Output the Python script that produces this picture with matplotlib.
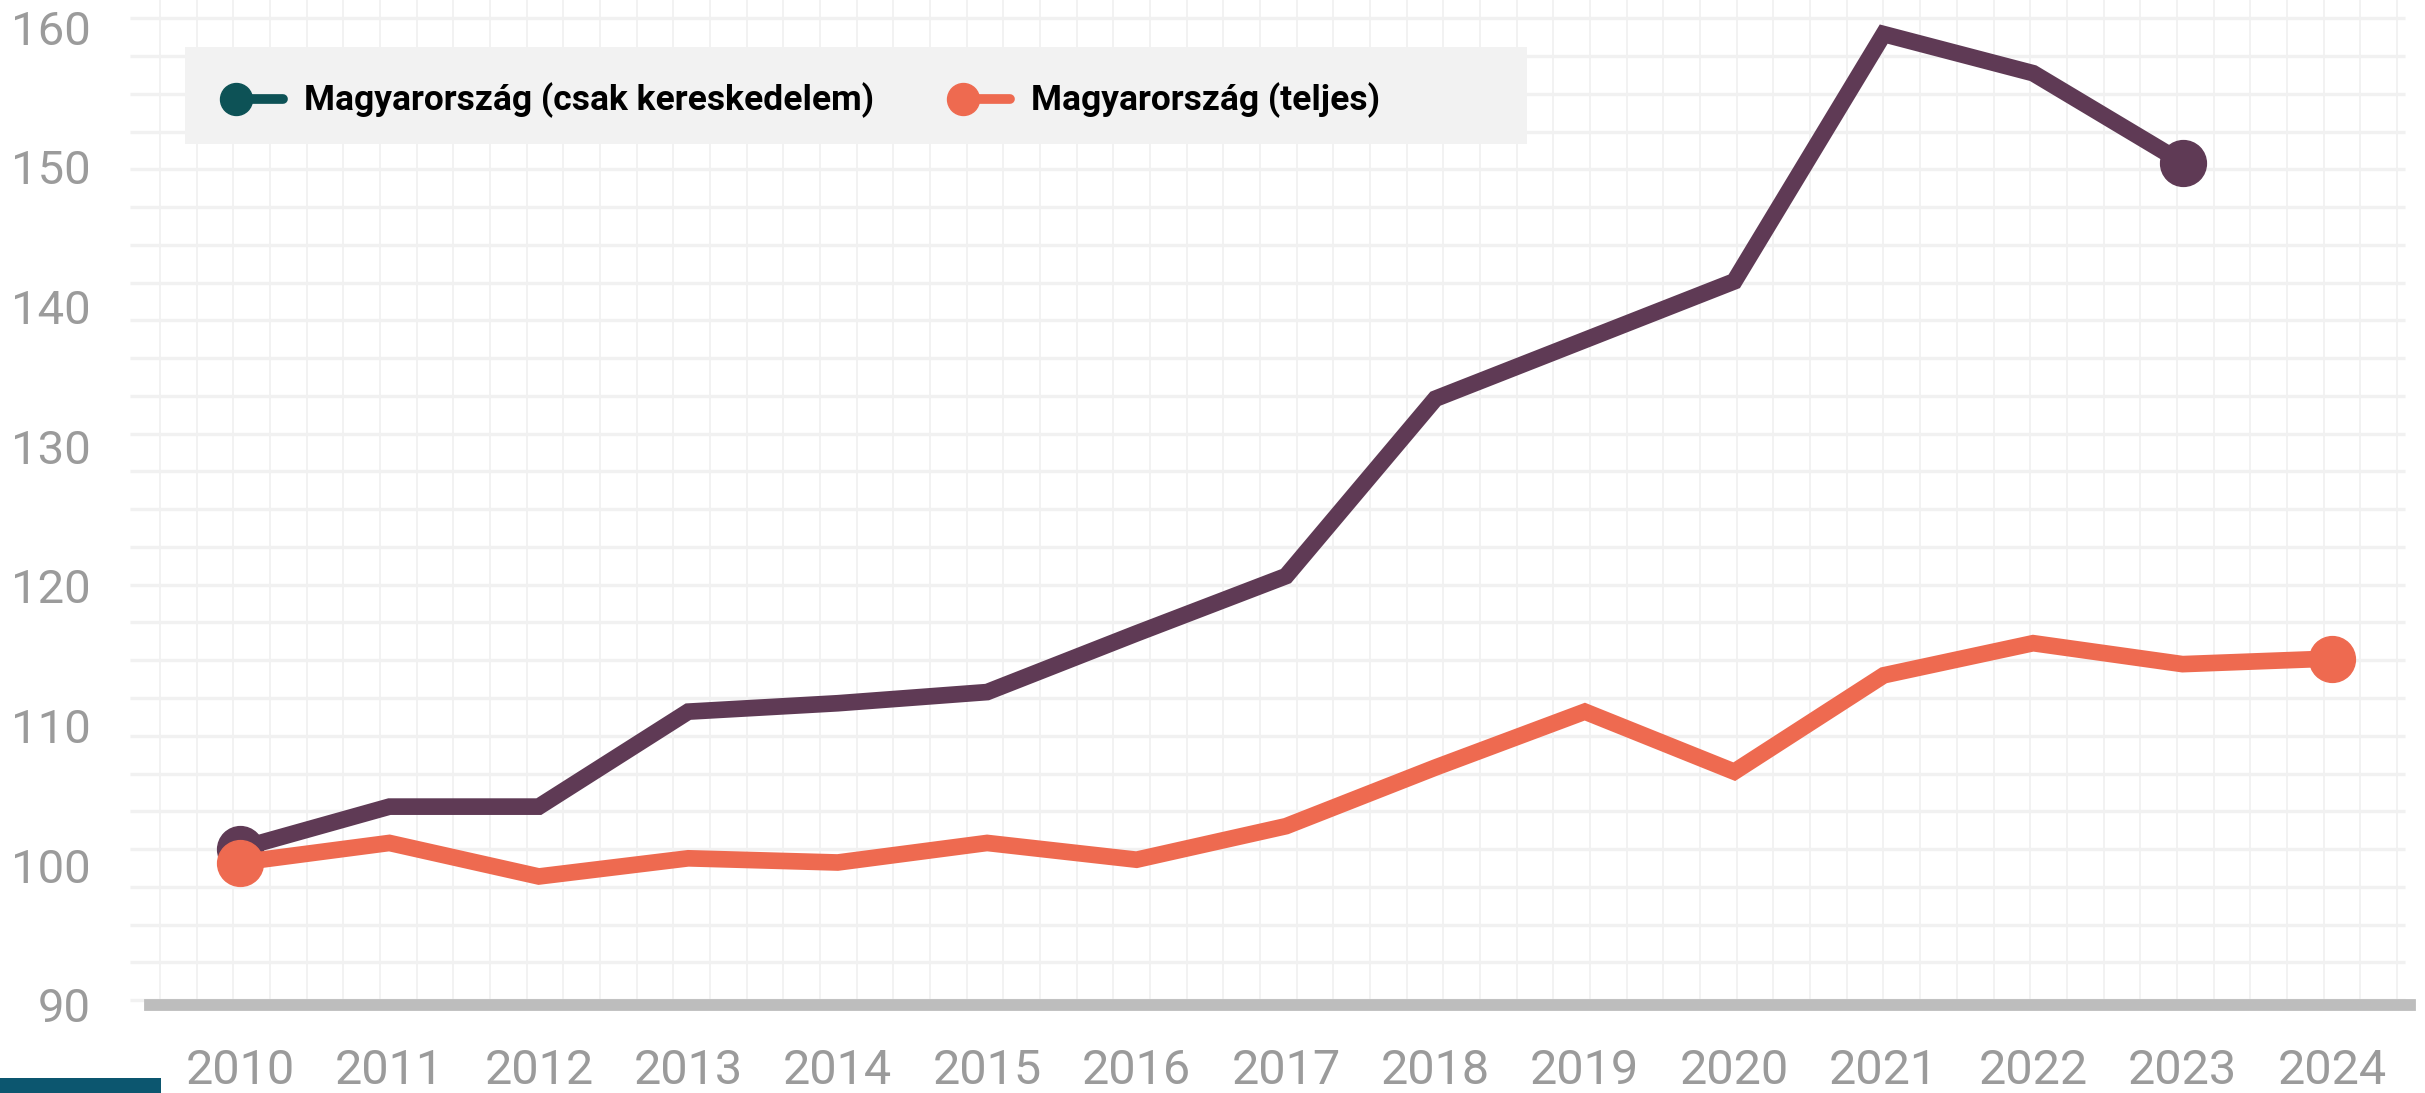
import matplotlib.pyplot as plt
import numpy as np
from matplotlib.patches import Rectangle

plt.rcParams['font.family'] = ['Roboto', 'DejaVu Sans']

# data (index, 2010 = 100)
years = [2010, 2011, 2012, 2013, 2014, 2015, 2016, 2017, 2018, 2019, 2020, 2021, 2022, 2023, 2024]
trade_years = years[:14]
trade_values = [101.2, 104.2, 104.2, 111.0, 111.6, 112.4, 116.6, 120.7, 133.4, 137.6, 141.8, 159.5, 156.7, 150.3]
total_values = [100.2, 101.6, 99.2, 100.5, 100.2, 101.6, 100.4, 102.8, 107.0, 111.0, 106.7, 113.6, 115.9, 114.4, 114.8]
labels = ["Magyarország (csak kereskedelem)", "Magyarország (teljes)"]
yticks = [90, 100, 110, 120, 130, 140, 150, 160]

PURPLE = "#5f3a55"
ORANGE = "#ee6a50"
TEAL = "#0d5256"
GRID = "#f1f1f1"

W, H = 2425, 1093
fig = plt.figure(figsize=(W / 100, H / 100), dpi=100)

# graph-paper background
bg = fig.add_axes([0, 0, 1, 1])
bg.set_xlim(0, W)
bg.set_ylim(H, 0)
bg.axis("off")
bg.vlines(np.arange(160, 2400, 36.67), 0, 1000, color=GRID, lw=1.3)
bg.hlines(np.arange(18.3, 1001, 37.76), 130, 2405, color=GRID, lw=2.4)
bg.add_patch(Rectangle((0, 1078), 161, 15, color="#0c566f", lw=0))

# main chart
ax = fig.add_axes([150 / W, 88 / H, 2260 / W, 1005 / H])
ax.set_facecolor("none")
ax.plot(trade_years, trade_values, color=PURPLE, lw=12, marker="o", ms=33,
        markevery=[0, -1], solid_joinstyle="miter")
ax.plot(years, total_values, color=ORANGE, lw=12, marker="o", ms=33,
        markevery=[0, -1], solid_joinstyle="miter")

ax.set_xlim(2009.398, 2024.522)
ax.set_ylim(90, 161.94)
ax.set_xticks(years)
ax.set_yticks(yticks)
for s in ["top", "right", "left"]:
    ax.spines[s].set_visible(False)
ax.spines["bottom"].set_color("#bdbdbd")
ax.spines["bottom"].set_linewidth(8.5)
ax.tick_params(axis="x", length=0, pad=31, labelsize=35, labelcolor="#9b9b9b")
ax.tick_params(axis="y", length=0, pad=43, labelsize=34, labelcolor="#9b9b9b")

# legend
lg = fig.add_axes([0, 0, 1, 1])
lg.set_xlim(0, W)
lg.set_ylim(H, 0)
lg.axis("off")
lg.add_patch(Rectangle((185, 47), 1342, 97, color="#f2f2f2", lw=0))
for x0, col, lab in [(236, TEAL, labels[0]), (963, ORANGE, labels[1])]:
    lg.plot([x0, x0 + 47], [99, 99], color=col, lw=7, solid_capstyle="round")
    lg.plot([x0], [99], "o", color=col, ms=23)
    lg.text(x0 + 68, 100, lab, va="center", ha="left", fontsize=25.5,
            fontweight="bold", color="black")

fig.savefig("out.png", dpi=100)
